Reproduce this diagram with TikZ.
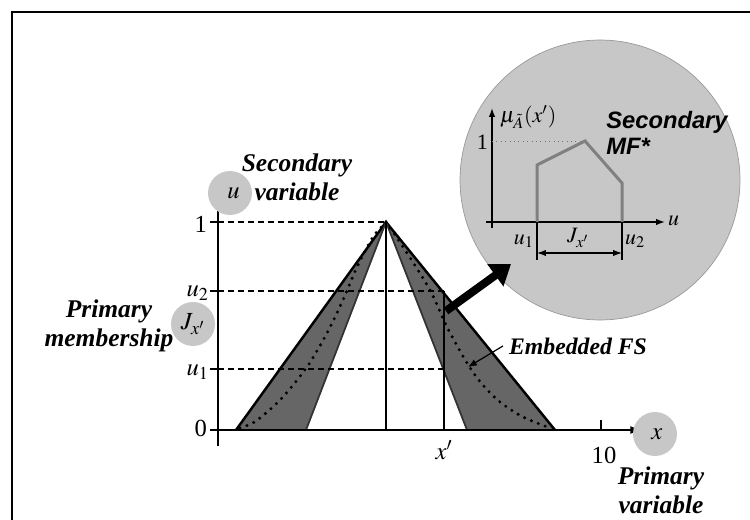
\documentclass[tikz,border=0pt]{standalone}
\usepackage{mathptmx}
\usepackage{fontspec}
\setmainfont{Liberation Serif}
\newfontfamily\mfsans{Liberation Sans}
\usepackage{tikz}
\usetikzlibrary{arrows.meta,positioning,calc}

\begin{document}
\begin{tikzpicture}[
  x=0.02cm, y=-0.02cm,
  lab/.style={font=\fontsize{14.5}{16.5}\selectfont\bfseries\itshape, align=center},
  num/.style={font=\fontsize{14}{16}\selectfont, inner sep=1pt},
  sml/.style={font=\fontsize{12.5}{14}\selectfont, inner sep=1pt},
  blob/.style={circle, fill=black!22, minimum size=0.88cm, inner sep=0pt},
  fou/.style={fill=black!60},
  umf/.style={draw=black, line width=1.4pt},
  lmf/.style={draw=black!80, line width=1pt},
  lev/.style={draw=black, line width=0.7pt, dash pattern=on 3.4pt off 2.3pt},
  base/.style={draw=black, line width=1.6pt, dash pattern=on 4.5pt off 2pt},
  emb/.style={draw=black, line width=1.9pt, dash pattern=on 0pt off 4.2pt, line cap=round},
  ax/.style={-{Latex[length=6pt,width=4.5pt]}},
  sax/.style={-{Latex[length=5pt,width=3.6pt]}, line width=0.8pt},
]
\useasboundingbox (0,0) rectangle (750,520);
% frame
\draw[line width=1.6pt] (12,520) -- (12,12) -- (750,12);

% secondary MF circle
\node[circle, fill=black!22, draw=black!40, line width=0.4pt, minimum size=5.6cm] (mfc) at (600,180) {};

% shaded footprint
\fill[fou] (236,430) -- (386,222) -- (306,430) -- cycle;
\fill[fou] (386,222) -- (555,430) -- (467,430) -- cycle;
\draw[umf] (236,430) -- (386,222) -- (555,430);
\draw[lmf] (306,430) -- (386,222) -- (467,430);

% embedded FS
\draw[emb] plot[smooth] coordinates {(240,428) (256,421) (281,399) (307,367) (327,333) (343,300) (357,267) (373,237) (386,222)};
\draw[emb] plot[smooth] coordinates {(386,222) (405,250) (430,290) (447,327) (467,363) (482,384) (500,402) (523,417) (550,428)};

% levels
\coordinate (top) at (386,222);
\coordinate (xu2) at (444,291);
\coordinate (xu1) at (444,369);
\draw[lev] (218,222) -- (top);
\draw[lev] (218,291) -- (xu2);
\draw[lev] (218,369) -- (xu1);
\draw[line width=1.1pt] (top) -- (386,430);
\draw[line width=0.8pt] (444,430) -- (xu2);

% axes
\draw[ax, line width=0.9pt] (210,430) -- (641,430);
\draw[ax, line width=1.5pt] (218,446) -- (218,190);
\foreach \yy in {222,291,369,430}{\draw[line width=0.8pt] (210,\yy) -- (218,\yy);}
\draw[line width=0.8pt] (601,430) -- (601,420);
\draw[base] (236,430) -- (306,430);
\draw[base] (467,430) -- (555,430);

% tick labels
\node[num, anchor=east] (l1) at (209,224) {1};
\node[num, anchor=east] (lu2) at (211,293) {$u_2$};
\node[num, anchor=east] (lu1) at (211,372) {$u_1$};
\node[num, anchor=east] (l0) at (209,428) {0};
\node[num] (lxp) at (444,450) {$x'$};
\node[num] (l10) at (604,455) {10};

% variables
\node[blob] (cu) at (230,193) {};
\node[num] at (cu.center) [xshift=2pt] {$u$};
\node[lab] (sv) at (297,177) {Secondary\\variable};
\node[blob] (cj) at (193,324) {};
\node[num] at (cj.center) {$J_{x'}$};
\node[lab] (pm) at (109,326) {Primary\\membership};
\node[blob] (cx) at (655,434) {};
\node[num] at (cx.center) [xshift=1pt] {$x$};
\node[lab] (pv) at (661,490) {Primary\\variable};

% embedded FS label
\node[lab, font=\fontsize{13.5}{15}\selectfont\bfseries\itshape] (ef) at (578,346) {Embedded FS};
\coordinate (efp) at (468,367);
\draw[-{Latex[length=5pt,width=4pt]}, line width=0.7pt] (ef.west) -- (efp);

% arrow to secondary MF
\coordinate (xa) at (446,311);
\coordinate (xb) at (511,264);
\draw[-{Triangle[length=11pt,width=15pt]}, line width=4.6pt] (xa) -- (xb);

% secondary MF plot
\draw[sax] (486,222) -- (665,222);
\draw[sax] (492,228) -- (492,108);
\node[sml, anchor=west] (mu) at (498,117) {$\mu_{\tilde{A}}(x')$};
\node[sml, anchor=west] (su) at (666,221) {$u$};
\node[sml, anchor=east] (s1) at (490,142) {1};
\draw[black!55, line width=0.5pt, dotted] (492,141) -- (585,141);
\draw[black!50, line width=1.7pt] (537,222) -- (537,165) -- (585,141) -- (622,183) -- (622,222);
\draw[line width=0.6pt] (537,222) -- (537,260);
\draw[line width=0.6pt] (622,222) -- (622,260);
\draw[{Latex[length=5pt,width=3.5pt]}-{Latex[length=5pt,width=3.5pt]}, line width=0.6pt] (537,253) -- (622,253);
\node[sml, anchor=east] (su1) at (536,241) {$u_1$};
\node[sml, anchor=west] (su2) at (623,241) {$u_2$};
\node[sml] (sj) at (578,238) {$J_{x'}$};
\node[anchor=west, font=\mfsans\fontsize{13.5}{15}\selectfont\bfseries\itshape, align=left, inner sep=0pt] (smf) at (606,133) {Secondary\\MF*};
\end{tikzpicture}
\end{document}
